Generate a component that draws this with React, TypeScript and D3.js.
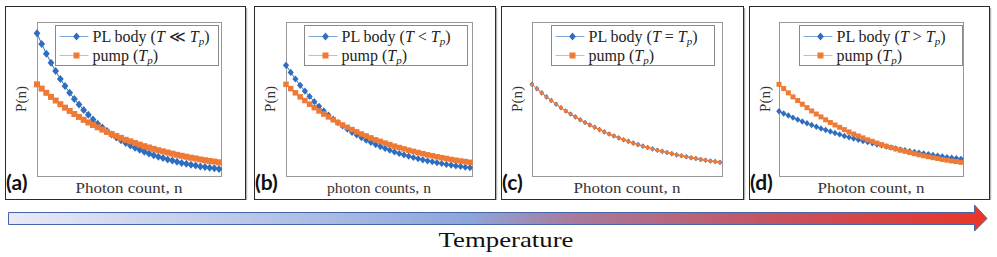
import * as d3 from 'd3';

// photon-number distributions (n = 0..39)
const pump = [
  0.0476, 0.0454, 0.0432, 0.0411, 0.0392, 0.0373, 0.0355, 0.0338, 0.0322, 0.0307,
  0.0292, 0.0278, 0.0265, 0.0253, 0.0241, 0.0229, 0.0218, 0.0208, 0.0198, 0.0188,
  0.0180, 0.0171, 0.0163, 0.0155, 0.0148, 0.0141, 0.0134, 0.0128, 0.0122, 0.0116,
  0.0110, 0.0105, 0.0100, 0.0095, 0.0091, 0.0086, 0.0082, 0.0078, 0.0075, 0.0071,
];
const bodyMuchColder = [
  0.0741, 0.0686, 0.0635, 0.0588, 0.0545, 0.0504, 0.0467, 0.0432, 0.0400, 0.0371,
  0.0343, 0.0318, 0.0294, 0.0272, 0.0252, 0.0234, 0.0216, 0.0200, 0.0186, 0.0172,
  0.0159, 0.0147, 0.0137, 0.0126, 0.0117, 0.0108, 0.0100, 0.0093, 0.0086, 0.0080,
  0.0074, 0.0068, 0.0063, 0.0059, 0.0054, 0.0050, 0.0047, 0.0043, 0.0040, 0.0037,
];
const bodyColder = [
  0.0575, 0.0538, 0.0504, 0.0471, 0.0441, 0.0413, 0.0386, 0.0362, 0.0338, 0.0317,
  0.0296, 0.0277, 0.0260, 0.0243, 0.0227, 0.0213, 0.0199, 0.0186, 0.0174, 0.0163,
  0.0153, 0.0143, 0.0134, 0.0125, 0.0117, 0.0110, 0.0103, 0.0096, 0.0090, 0.0084,
  0.0079, 0.0074, 0.0069, 0.0065, 0.0060, 0.0057, 0.0053, 0.0050, 0.0046, 0.0043,
];
// T = Tp: body sits exactly under the pump
const bodyEqual = pump.slice();
const bodyHotter = [
  0.0336, 0.0325, 0.0314, 0.0303, 0.0293, 0.0283, 0.0274, 0.0265, 0.0256, 0.0247,
  0.0239, 0.0231, 0.0223, 0.0216, 0.0208, 0.0201, 0.0195, 0.0188, 0.0182, 0.0176,
  0.0170, 0.0164, 0.0159, 0.0153, 0.0148, 0.0143, 0.0138, 0.0134, 0.0129, 0.0125,
  0.0121, 0.0117, 0.0113, 0.0109, 0.0105, 0.0102, 0.0098, 0.0095, 0.0092, 0.0089,
];

const tags = ['(a)', '(b)', '(c)', '(d)'];
const xLabels = ['Photon count, n', 'photon counts, n', 'Photon count, n', 'Photon count, n'];
const relations = ['≪', '<', '=', '>'];
const bodies = [bodyMuchColder, bodyColder, bodyEqual, bodyHotter];

// layout (px)
const panelLeft = [5, 254, 501, 749];
const panelWidth = [240, 241, 242, 240];
const axesLeftOff = [32, 32, 31, 30];
const axesRightOff = [216, 218, 221, 214];
const diamondHalf = [[3.4, 4], [3.1, 3.6], [2.3, 2.8], [2.8, 3.2]];
const squareSide = [6, 5.5, 3.4, 5];
const panelTop = 6;
const panelHeight = 193;
const axesTop = 22;
const axesBottom = 176;

const BLUE = '#2f6ebf';
const ORANGE = '#ef7a36';
const SERIF = "'Liberation Serif', 'DejaVu Serif', serif";

const diamond = (hw: number, hh: number) => `M0,${-hh}L${hw},0L0,${hh}L${-hw},0Z`;

function Legend({ x, y, rel }: { x: number; y: number; rel: string }) {
  const rows = [
    { color: BLUE, body: true, y: y + 11 },
    { color: ORANGE, body: false, y: y + 30 },
  ];
  return (
    <g>
      <rect x={x} y={y} width={163} height={40} fill="#fff" stroke="#8a8a8a" strokeWidth={1} />
      {rows.map((r, i) => (
        <g key={i}>
          <line x1={x + 4} x2={x + 33} y1={r.y} y2={r.y} stroke={r.color} strokeWidth={1} opacity={0.6} />
          {r.body ? (
            <path d={diamond(3.4, 4)} transform={`translate(${x + 21},${r.y})`} fill={BLUE} />
          ) : (
            <rect x={x + 18} y={r.y - 3} width={6} height={6} fill={ORANGE} />
          )}
          <text x={x + 37} y={r.y + 5} fontSize={16} fill="#222" fontFamily={SERIF}>
            {r.body ? (
              <>
                <tspan>PL body (</tspan>
                <tspan fontStyle="italic">T</tspan>
                <tspan>{` ${rel} `}</tspan>
                <tspan fontStyle="italic">T</tspan>
                <tspan fontStyle="italic" fontSize={11} dy={3}>p</tspan>
                <tspan dy={-3}>)</tspan>
              </>
            ) : (
              <>
                <tspan>pump (</tspan>
                <tspan fontStyle="italic">T</tspan>
                <tspan fontStyle="italic" fontSize={11} dy={3}>p</tspan>
                <tspan dy={-3}>)</tspan>
              </>
            )}
          </text>
        </g>
      ))}
    </g>
  );
}

function Panel({ i }: { i: number }) {
  const left = panelLeft[i];
  const ax0 = left + axesLeftOff[i];
  const ax1 = left + axesRightOff[i];
  const [hw, hh] = diamondHalf[i];
  const s = squareSide[i];
  const body = bodies[i];

  const x = d3.scaleLinear().domain([0, pump.length - 1]).range([ax0, ax1 - 2]);
  const y = d3.scaleLinear().domain([0, 0.08]).range([axesBottom, axesTop]);
  const line = d3.line<number>().x((_, j) => x(j)).y(d => y(d));

  return (
    <g>
      {/* panel frame with a little shadow */}
      <line x1={left + panelWidth[i] + 1.5} x2={left + panelWidth[i] + 1.5} y1={panelTop + 2} y2={panelTop + panelHeight + 1} stroke="#b5b5b5" strokeWidth={1.5} />
      <rect x={left + 0.5} y={panelTop + 0.5} width={panelWidth[i]} height={panelHeight} fill="#fff" stroke="#2a2a2a" strokeWidth={1} />

      {/* axes box */}
      <rect x={ax0 + 0.5} y={axesTop + 0.5} width={ax1 - ax0} height={axesBottom - axesTop} fill="none" stroke="#999" strokeWidth={1} />

      {/* body series */}
      <path d={line(body) ?? ''} fill="none" stroke={BLUE} strokeWidth={1} />
      {body.map((v, j) => (
        <path key={'b' + j} d={diamond(hw, hh)} transform={`translate(${x(j)},${y(v)})`} fill={BLUE} />
      ))}

      {/* pump series */}
      <path d={line(pump) ?? ''} fill="none" stroke={ORANGE} strokeWidth={1} />
      {pump.map((v, j) => (
        <rect key={'p' + j} x={x(j) - s / 2} y={y(v) - s / 2} width={s} height={s} fill={ORANGE} />
      ))}

      <Legend x={left + 50.5} y={25.5} rel={relations[i]} />

      {/* axis labels */}
      <text
        transform={`translate(${left + 21},${(axesTop + axesBottom) / 2}) rotate(-90)`}
        textAnchor="middle"
        fontSize={15}
        fill="#333"
        fontFamily={SERIF}
      >
        P(n)
      </text>
      <text
        x={(ax0 + ax1) / 2}
        y={193}
        textAnchor="middle"
        fontSize={15}
        fill="#333"
        fontFamily={SERIF}
        textLength={i === 1 ? 104 : 107}
        lengthAdjust="spacingAndGlyphs"
      >
        {xLabels[i]}
      </text>

      <text x={left + 1} y={190} fontSize={21} fontWeight="bold" fill="#111" fontFamily="Lato, 'Open Sans', sans-serif">
        {tags[i]}
      </text>
    </g>
  );
}

export default function App() {
  return (
    <div style={{ position: 'absolute', left: 0, top: 0 }}>
      <svg width={997} height={257} style={{ display: 'block' }}>
        <defs>
          <linearGradient id="tempGrad" x1="0" x2="1" y1="0" y2="0">
            <stop offset="0" stopColor="#e8eaf7" />
            <stop offset="0.47" stopColor="#8da6da" />
            <stop offset="0.58" stopColor="#a9799a" />
            <stop offset="0.8" stopColor="#c8505a" />
            <stop offset="1" stopColor="#ec3526" />
          </linearGradient>
        </defs>

        {tags.map((_, i) => (
          <Panel key={i} i={i} />
        ))}

        {/* temperature arrow */}
        <path
          d="M8.5,212.5L974.5,212.5L974.5,205L987,218.5L974.5,231L974.5,224.5L8.5,224.5Z"
          fill="url(#tempGrad)"
          stroke="#4565a8"
          strokeWidth={1}
        />
        <text x={506} y={247} textAnchor="middle" fontSize={22} fill="#111" fontFamily={SERIF} textLength={135} lengthAdjust="spacingAndGlyphs">
          Temperature
        </text>
      </svg>
    </div>
  );
}
